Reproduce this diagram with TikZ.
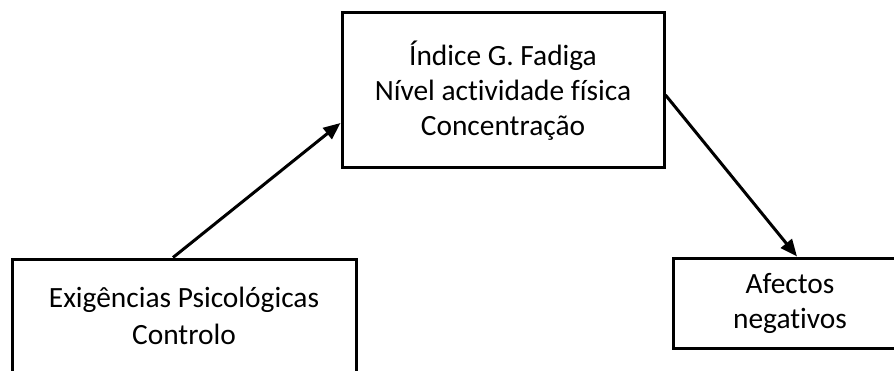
\documentclass[tikz,border=0pt]{standalone}
\usepackage{fontspec}
\setmainfont[Ligatures={NoCommon}]{Carlito}
\usetikzlibrary{arrows.meta}
\begin{document}
\begin{tikzpicture}[x=1pt,y=1pt,
  box/.style={draw=black, line width=3pt, fill=white, align=center, inner sep=0pt,
    font=\fontsize{29.4}{35}\selectfont},
  conn/.style={line width=3pt, -{Triangle[length=17pt,width=14pt]}}]
\useasboundingbox (0,0) rectangle (894,370);
\clip (0,0) rectangle (894,370);
\node[box, minimum width=322pt, minimum height=155pt] (top) at (503,279.5)
  {Índice G. Fadiga\\Nível actividade física\\Concentração};
\node[box, minimum width=344pt, minimum height=114pt,
  font=\fontsize{29.4}{37}\selectfont] (bl) at (184,54)
  {Exigências Psicológicas\\Controlo};
\node[box, minimum width=234pt, minimum height=90pt] (rt) at (790,67)
  {Afectos\\negativos};
\draw[conn] ([xshift=-11pt]bl.north) -- ([yshift=-32.5pt]top.west);
\draw[conn] ([yshift=-4.5pt]top.east) -- ([xshift=7pt]rt.north);
\end{tikzpicture}
\end{document}
